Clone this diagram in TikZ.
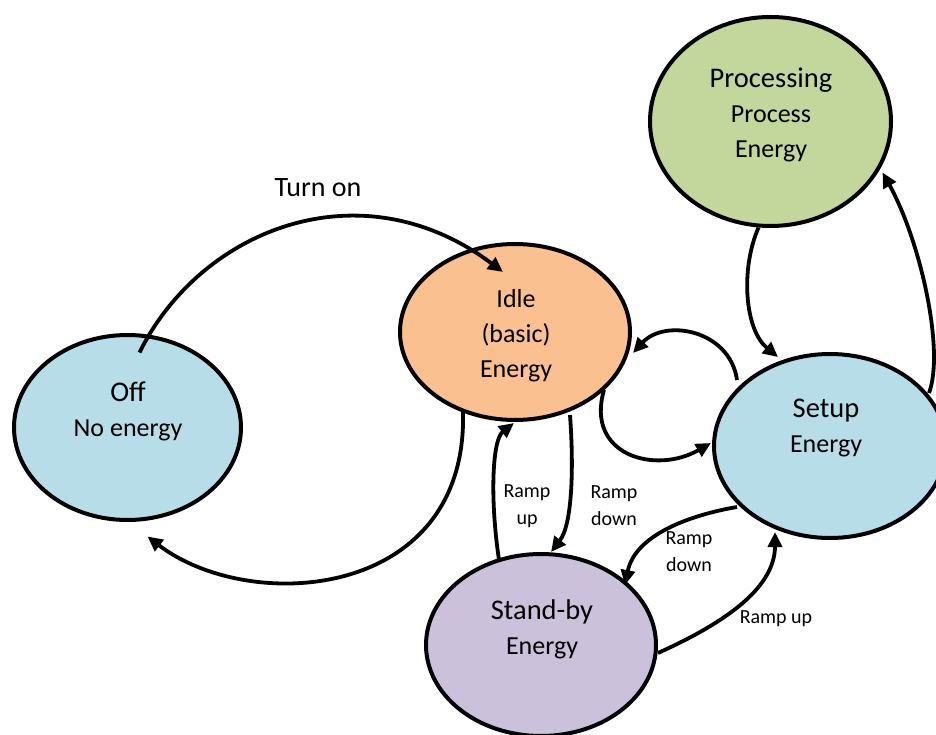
\documentclass[tikz,border=0pt]{standalone}
\usepackage{fontspec}
\setmainfont{Carlito}
\usetikzlibrary{shapes.geometric,arrows.meta,calc}
\definecolor{offblue}{HTML}{B7DDE8}
\definecolor{idleorange}{HTML}{FAC090}
\definecolor{procgreen}{HTML}{C3D69B}
\definecolor{stbypurple}{HTML}{CCC1DA}
\newcommand\statetitle[1]{{\fontsize{28.5}{35}\selectfont #1}}
\begin{document}
\begin{tikzpicture}[x=1pt,y=-1pt,
  state/.style={ellipse,draw=black,line width=4pt,inner sep=0pt},
  conn/.style={line width=3.8pt,-{Triangle[length=15pt,width=14pt]}},
  statetext/.style={align=center,inner sep=0pt,font=\fontsize{26}{35}\selectfont},
  smalltext/.style={align=center,inner sep=0pt,font=\fontsize{20}{27}\selectfont}]
\useasboundingbox (0,0) rectangle (936,735);
% states
\node[state,fill=offblue,minimum width=227pt,minimum height=185pt] (off) at (127.5,427.5) {};
\node[state,fill=idleorange,minimum width=230pt,minimum height=176pt] (idle) at (515,332) {};
\node[state,fill=offblue,minimum width=232pt,minimum height=184pt] (setup) at (830,446) {};
\node[state,fill=procgreen,minimum width=241pt,minimum height=209pt] (proc) at (770.5,121.5) {};
\node[state,fill=stbypurple,minimum width=230pt,minimum height=182pt] (stby) at (541,645) {};
% state texts
\node[statetext] (offtxt) at (128,411) {\statetitle{Off}\\No energy};
\node[statetext] (idletxt) at (516,336) {Idle\\(basic)\\Energy};
\node[statetext] (proctxt) at (771,115) {\statetitle{Processing}\\Process\\Energy};
\node[statetext] (setuptxt) at (826,428) {\statetitle{Setup}\\Energy};
\node[statetext] (stbytxt) at (542,629) {\statetitle{Stand-by}\\Energy};
% connector labels
\node[inner sep=0pt,font=\fontsize{28}{34}\selectfont] (turnon) at (318,188) {Turn on};
\node[smalltext] (lrampup) at (527,506) {Ramp\\up};
\node[smalltext] (lrampdown) at (614,506) {Ramp\\down};
\node[smalltext] (lrampdown2) at (689,552) {Ramp\\down};
\node[smalltext] (lrampup2) at (776,619) {Ramp up};
% connectors
\draw[conn] ($(off)+(12,-75)$) .. controls (200,230) and (360,165) .. ($(idle)+(-12,-60)$);
\draw[conn] ($(idle)+(-52,80)$) .. controls (468,600) and (250,615) .. ($(off)+(20,109)$);
\draw[conn] ($(stby)+(-42,-85)$) .. controls (490,500) and (492,440) .. ($(idle)+(-1,91)$);
\draw[conn] ($(idle)+(55,83)$) .. controls (574,470) and (572,525) .. ($(stby)+(10,-93)$);
\draw[conn] ($(setup)+(-93,-66)$) .. controls (730,330) and (665,318) .. ($(idle)+(118,21)$);
\draw[conn] ($(idle)+(89,58)$) .. controls (585,455) and (655,475) .. ($(setup)+(-119,-3)$);
\draw[conn] ($(proc)+(-12,106)$) .. controls (740,270) and (745,330) .. ($(setup)+(-52,-89)$);
\draw[conn] ($(setup)+(99,-53)$) .. controls (945,350) and (920,240) .. ($(proc)+(112,51)$);
\draw[conn] ($(setup)+(-93,61)$) .. controls (690,515) and (635,535) .. ($(stby)+(84,-60)$);
\draw[conn] ($(stby)+(117,8)$) .. controls (720,625) and (775,590) .. ($(setup)+(-55,86)$);
\end{tikzpicture}
\end{document}
